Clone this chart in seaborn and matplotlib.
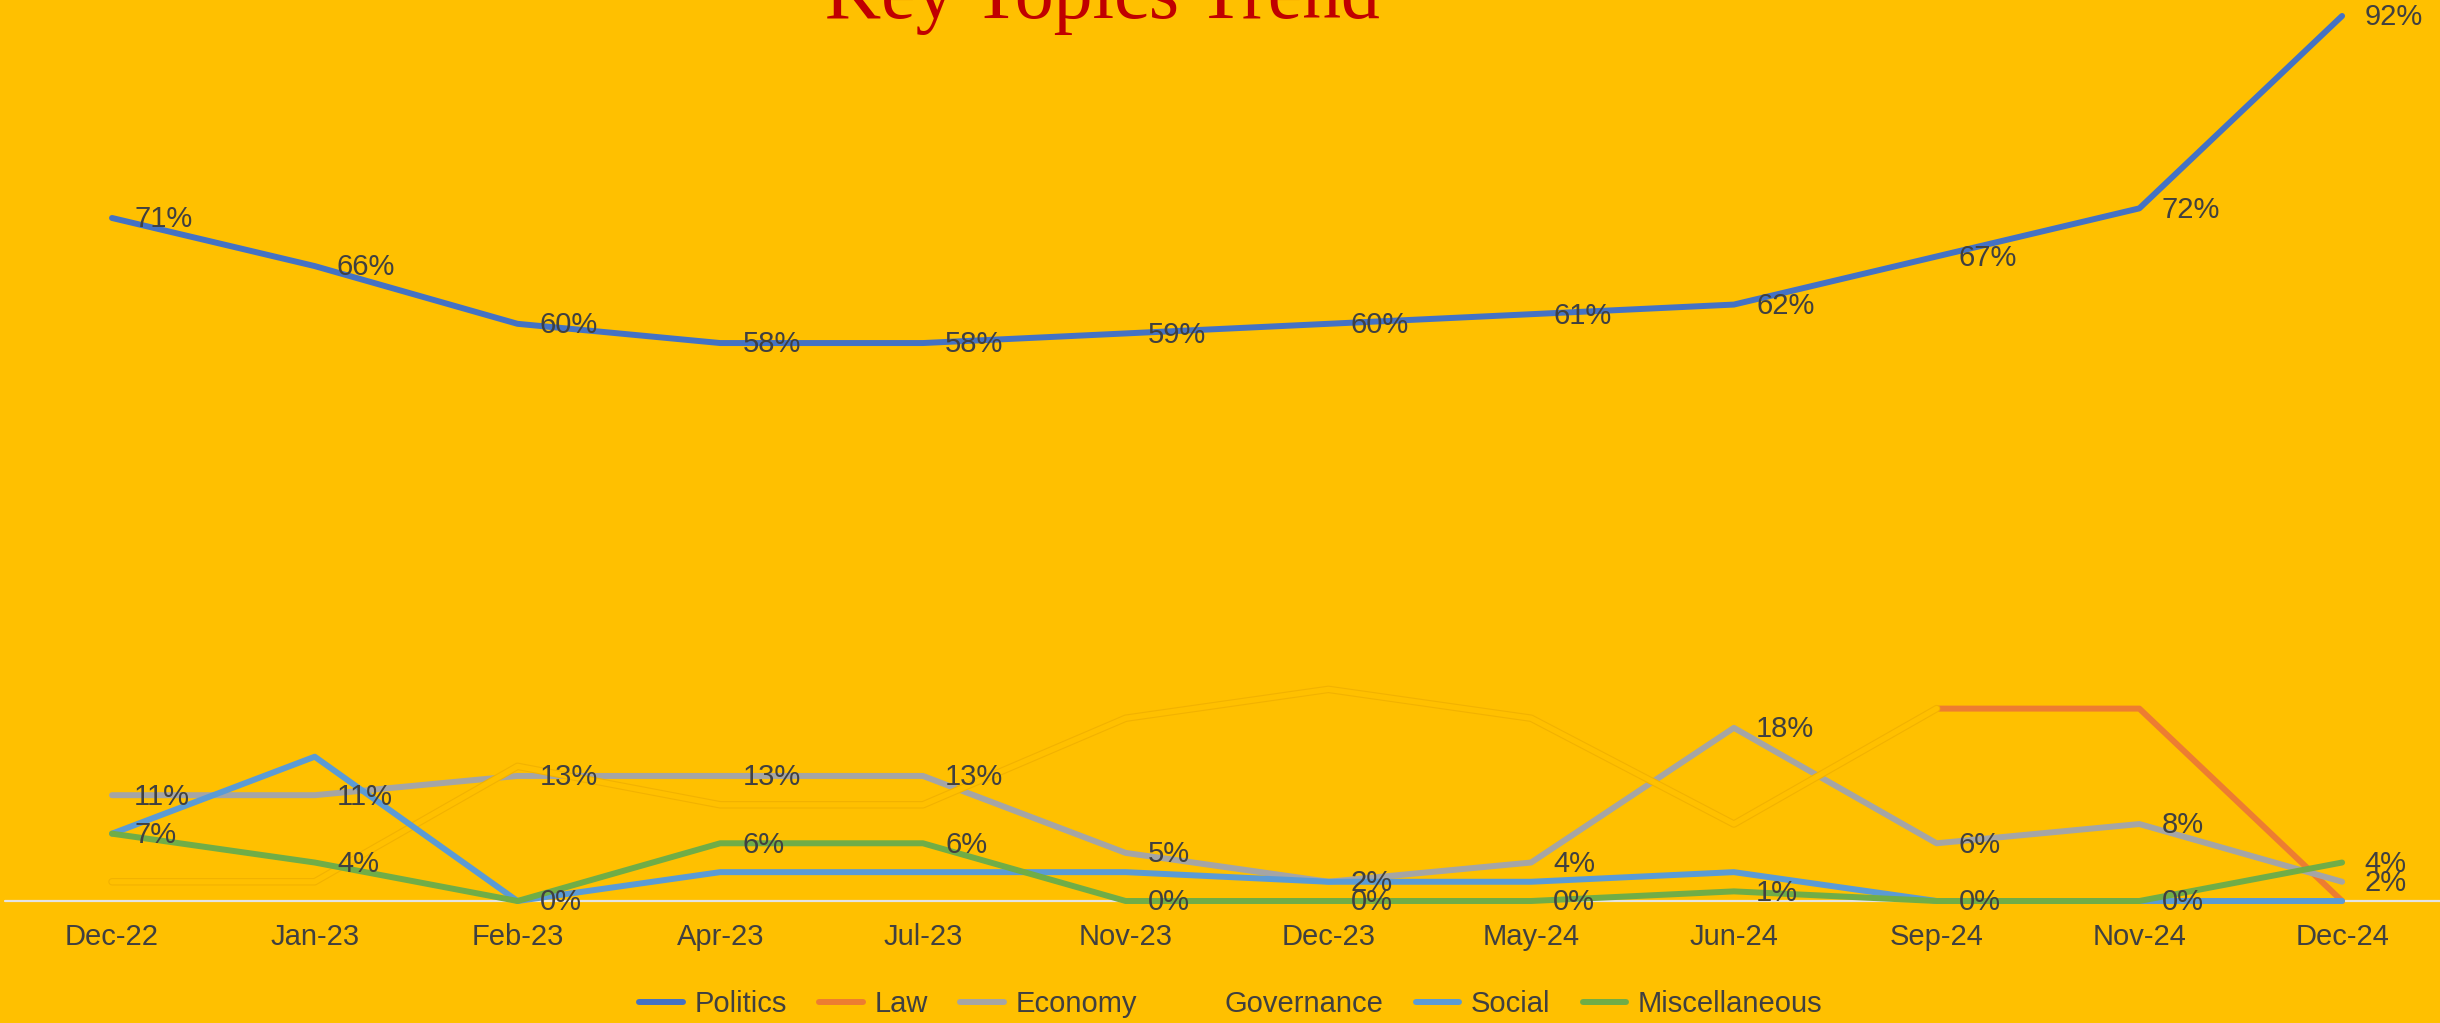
import numpy as np
import pandas as pd
import matplotlib
matplotlib.use("Agg")
import matplotlib.pyplot as plt
import matplotlib.patheffects as pe
from matplotlib.lines import Line2D
from matplotlib import font_manager
import seaborn as sns

# Data (percent)
months = ['Dec-22', 'Jan-23', 'Feb-23', 'Apr-23', 'Jul-23', 'Nov-23',
          'Dec-23', 'May-24', 'Jun-24', 'Sep-24', 'Nov-24', 'Dec-24']
politics = [71, 66, 60, 58, 58, 59, 60, 61, 62, 67, 72, 92]
law = [np.nan] * 9 + [20, 20, 0]
economy = [11, 11, 13, 13, 13, 5, 2, 4, 18, 6, 8, 2]
governance = [2, 2, 14, 10, 10, 19, 22, 19, 8, 20, np.nan, np.nan]
social = [7, 15, 0, 3, 3, 3, 2, 2, 3, 0, 0, 0]
miscellaneous = [7, 4, 0, 6, 6, 0, 0, 0, 1, 0, 0, 4]

series_names = ['Politics', 'Law', 'Economy', 'Governance', 'Social', 'Miscellaneous']
series_values = [politics, law, economy, governance, social, miscellaneous]
series_colors = ['#4472C4', '#ED7D31', '#A5A5A5', '#FFC000', '#5B9BD5', '#70AD47']
labelled = ['Politics', 'Economy', 'Miscellaneous']

BG = '#FFC000'
TXT = '#404040'

sns.set_theme(style="white")
names = {f.name for f in font_manager.fontManager.ttflist}
if 'Liberation Sans Narrow' in names:
    lab_font, fs = 'Liberation Sans Narrow', 22.5
else:
    lab_font, fs = 'Liberation Sans', 21
plt.rcParams['font.family'] = [lab_font, 'DejaVu Sans']

df = pd.DataFrame({'x': np.arange(len(months))})
for n, v in zip(series_names, series_values):
    df[n] = v

fig = plt.figure(figsize=(24.4, 10.23), dpi=100, facecolor=BG)
ax = fig.add_axes([0, 0.1075, 1, 0.8925])
ax.set_facecolor(BG)

ax.axhline(0, color='#E4E4E4', lw=1.6, xmin=0.002, zorder=1)

LW = 4.3
for n, c in zip(series_names, series_colors):
    sns.lineplot(data=df, x='x', y=n, ax=ax, color=c, linewidth=LW,
                 solid_capstyle='round', solid_joinstyle='round', zorder=3)
    if n == 'Governance':
        ax.lines[-1].set_path_effects([pe.Stroke(linewidth=5.4, foreground='#F2B200'),
                                       pe.Normal()])
        ax.lines[-1].set_linewidth(3.8)

for n in labelled:
    for i, v in enumerate(df[n]):
        ax.annotate(f"{v:.0f}%", (i, v), xytext=(16, -1), textcoords='offset points',
                    ha='left', va='center', fontsize=fs, color=TXT, zorder=6)

ax.set_xlim(-0.5525, 11.483)
ax.set_ylim(-1.25, 93.66)
ax.set_xticks(range(len(months)))
ax.set_xticklabels(months, fontsize=fs, color=TXT)
ax.tick_params(axis='x', length=0, pad=7)
ax.set_yticks([])
ax.set_xlabel('')
ax.set_ylabel('')
for s in ax.spines.values():
    s.set_visible(False)

handles = [Line2D([0], [0], color=c, lw=LW, solid_capstyle='round')
           for c in series_colors]
fig.legend(handles, series_names, loc='center', bbox_to_anchor=(0.5045, 0.0186),
           ncol=6, frameon=False, fontsize=fs, labelcolor=TXT,
           handlelength=1.5, handletextpad=0.4, columnspacing=1.1)

fig.text(0.452, 1 - 18 / 1023, 'Key Topics Trend', ha='center', va='baseline',
         fontsize=56, color='#C00000', family=['Liberation Serif', 'DejaVu Serif'])

fig.savefig('out.png', dpi=100, facecolor=BG)
